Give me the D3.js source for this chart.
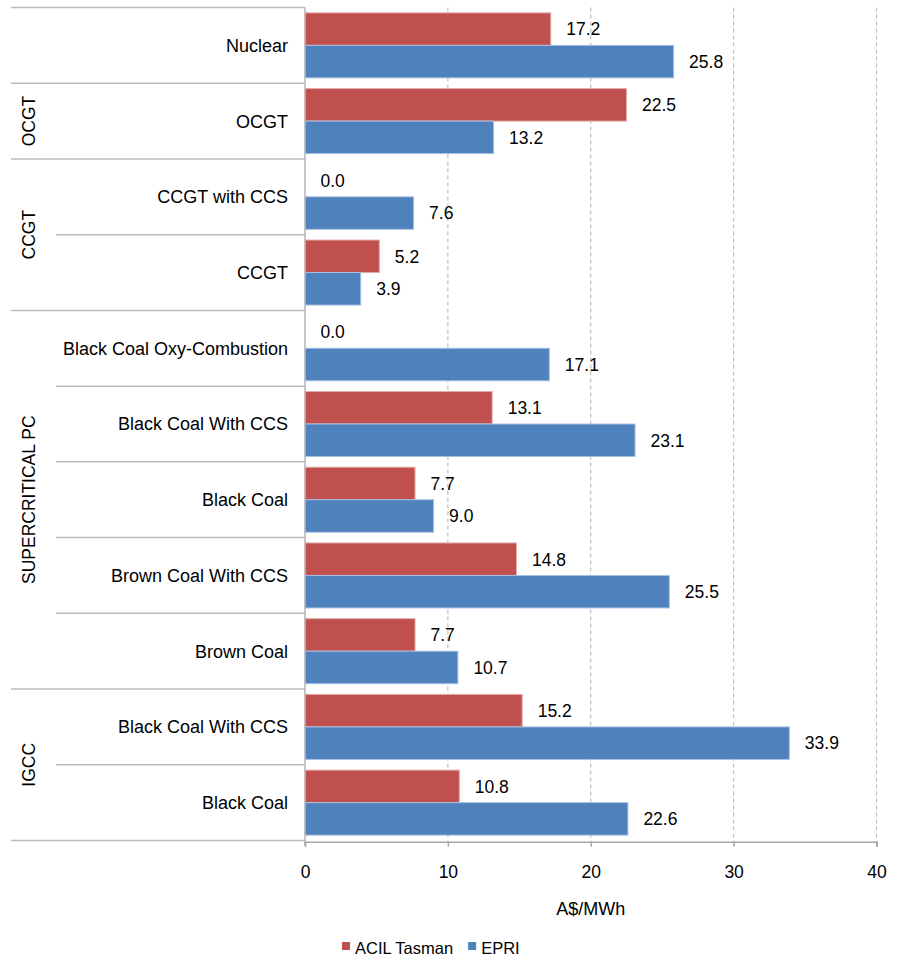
<!DOCTYPE html>
<html>
<head>
<meta charset="utf-8">
<script src="https://cdn.jsdelivr.net/npm/d3@7"></script>
<style>
  html, body { margin: 0; padding: 0; background: #fff; }
  svg { display: block; font-family: "Liberation Sans", Arial, sans-serif; }
</style>
</head>
<body>
<svg id="chart" width="901" height="957"></svg>
<script>
// ---- data ----
const categories = [
  "Nuclear", "OCGT", "CCGT with CCS", "CCGT", "Black Coal Oxy-Combustion",
  "Black Coal With CCS", "Black Coal", "Brown Coal With CCS", "Brown Coal",
  "Black Coal With CCS", "Black Coal"
];
const groups = [
  "", "OCGT", "CCGT", "CCGT", "SUPERCRITICAL PC",
  "SUPERCRITICAL PC", "SUPERCRITICAL PC", "SUPERCRITICAL PC", "SUPERCRITICAL PC",
  "IGCC", "IGCC"
];
const acilTasman = [17.2, 22.5, 0.0, 5.2, 0.0, 13.1, 7.7, 14.8, 7.7, 15.2, 10.8];
const epri       = [25.8, 13.2, 7.6, 3.9, 17.1, 23.1, 9.0, 25.5, 10.7, 33.9, 22.6];
const seriesNames = ["ACIL Tasman", "EPRI"];
const xTicks = [0, 10, 20, 30, 40];
const axisTitle = "A$/MWh";

(function () {
// ---- layout ----
const svg = d3.select("#chart");
const colors = { "ACIL Tasman": "#C0504D", "EPRI": "#4F81BD" };
const edge = { "ACIL Tasman": "#E3A9A8", "EPRI": "#A7C0E2" };
const pLeft = 305, pRight = 876.5, pTop = 7.5, pBottom = 840.5;

const x = d3.scaleLinear().domain([0, 40]).range([pLeft, pRight]);
const y = d3.scaleBand().domain(d3.range(categories.length)).range([pTop, pBottom]);
const ys = d3.scaleBand().domain(seriesNames).range([0, y.bandwidth()])
  .paddingInner(0).paddingOuter(0.165);

const seriesData = { "ACIL Tasman": acilTasman, "EPRI": epri };

// gridlines
svg.append("g").selectAll("line").data(xTicks.filter(t => t > 0)).join("line")
  .attr("x1", d => x(d)).attr("x2", d => x(d))
  .attr("y1", pTop).attr("y2", pBottom + 1)
  .attr("stroke", "#BFBFBF").attr("stroke-width", 1.2)
  .attr("stroke-dasharray", "4,3");

// bars
const rows = categories.map((c, i) => ({ i, c }));
seriesNames.forEach(s => {
  const g = svg.append("g");
  g.selectAll("rect").data(rows).join("rect")
    .attr("x", x(0))
    .attr("y", d => y(d.i) + ys(s))
    .attr("width", d => x(seriesData[s][d.i]) - x(0))
    .attr("height", ys.bandwidth())
    .attr("fill", colors[s])
    .attr("stroke", d => seriesData[s][d.i] > 0 ? edge[s] : "none")
    .attr("stroke-width", 1);
  g.selectAll("text").data(rows).join("text")
    .attr("x", d => x(seriesData[s][d.i]) + 15.5)
    .attr("y", d => y(d.i) + ys(s) + ys.bandwidth() / 2)
    .attr("dy", "0.36em")
    .attr("font-size", 17.5)
    .attr("fill", "#000")
    .text(d => d3.format(".1f")(seriesData[s][d.i]));
});

// category axis: separators
const sepColor = "#BDBDBD";
const boundaries = d3.range(categories.length + 1).map(k => {
  let outer;
  if (k === 0 || k === categories.length) outer = true;
  else outer = groups[k] !== groups[k - 1] || groups[k] === "";
  const yy = k === categories.length ? pBottom : y(k);
  return { yy, outer };
});
svg.append("g").selectAll("line").data(boundaries).join("line")
  .attr("x1", d => d.outer ? 11 : 56).attr("x2", pLeft)
  .attr("y1", d => d.yy).attr("y2", d => d.yy)
  .attr("stroke", sepColor).attr("stroke-width", 1.5);

// vertical category axis line
svg.append("line")
  .attr("x1", pLeft).attr("x2", pLeft).attr("y1", pTop).attr("y2", pBottom + 5)
  .attr("stroke", "#B5B5B5").attr("stroke-width", 1.5);

// category labels
svg.append("g").selectAll("text").data(rows).join("text")
  .attr("x", 288)
  .attr("y", d => y(d.i) + y.bandwidth() / 2)
  .attr("dy", "0.36em")
  .attr("text-anchor", "end")
  .attr("font-size", 18)
  .attr("fill", "#000")
  .text(d => d.c);

// group labels
const groupNames = Array.from(new Set(groups.filter(g => g !== "")));
svg.append("g").selectAll("text").data(groupNames).join("text")
  .attr("transform", g => {
    const idx = groups.map((v, i) => v === g ? i : -1).filter(i => i >= 0);
    const cy = (y(idx[0]) + y(idx[idx.length - 1]) + y.bandwidth()) / 2;
    return `translate(35,${cy}) rotate(-90)`;
  })
  .attr("text-anchor", "middle")
  .attr("font-size", 17.5)
  .attr("fill", "#000")
  .text(g => g);

// x axis
const xAxis = d3.axisBottom(x).tickValues(xTicks).tickFormat(d3.format("d"))
  .tickSize(5).tickSizeOuter(5).tickPadding(18.5);
const gx = svg.append("g").attr("transform", `translate(0,${pBottom + 1.2})`).call(xAxis);
gx.select(".domain").attr("stroke", "#A6A6A6").attr("stroke-width", 1.5);
gx.selectAll(".tick line").attr("stroke", "#A6A6A6").attr("stroke-width", 1.5);
gx.selectAll(".tick text").attr("font-size", 17.5).attr("fill", "#000")
  .attr("font-family", "Liberation Sans, Arial, sans-serif");

// axis title
svg.append("text")
  .attr("x", (pLeft + pRight) / 2).attr("y", 914.5)
  .attr("text-anchor", "middle")
  .attr("font-size", 18).attr("fill", "#000")
  .text(axisTitle);

// legend
const lg = svg.append("g");
let lx = 342;
seriesNames.forEach(s => {
  lg.append("rect").attr("x", lx).attr("y", 942).attr("width", 8).attr("height", 8)
    .attr("fill", colors[s]);
  const t = lg.append("text").attr("x", lx + 13).attr("y", 953.5)
    .attr("font-size", 16.5).attr("fill", "#000").text(s);
  lx = lx + 13 + t.node().getComputedTextLength() + 15;
});
})();
</script>
</body>
</html>
